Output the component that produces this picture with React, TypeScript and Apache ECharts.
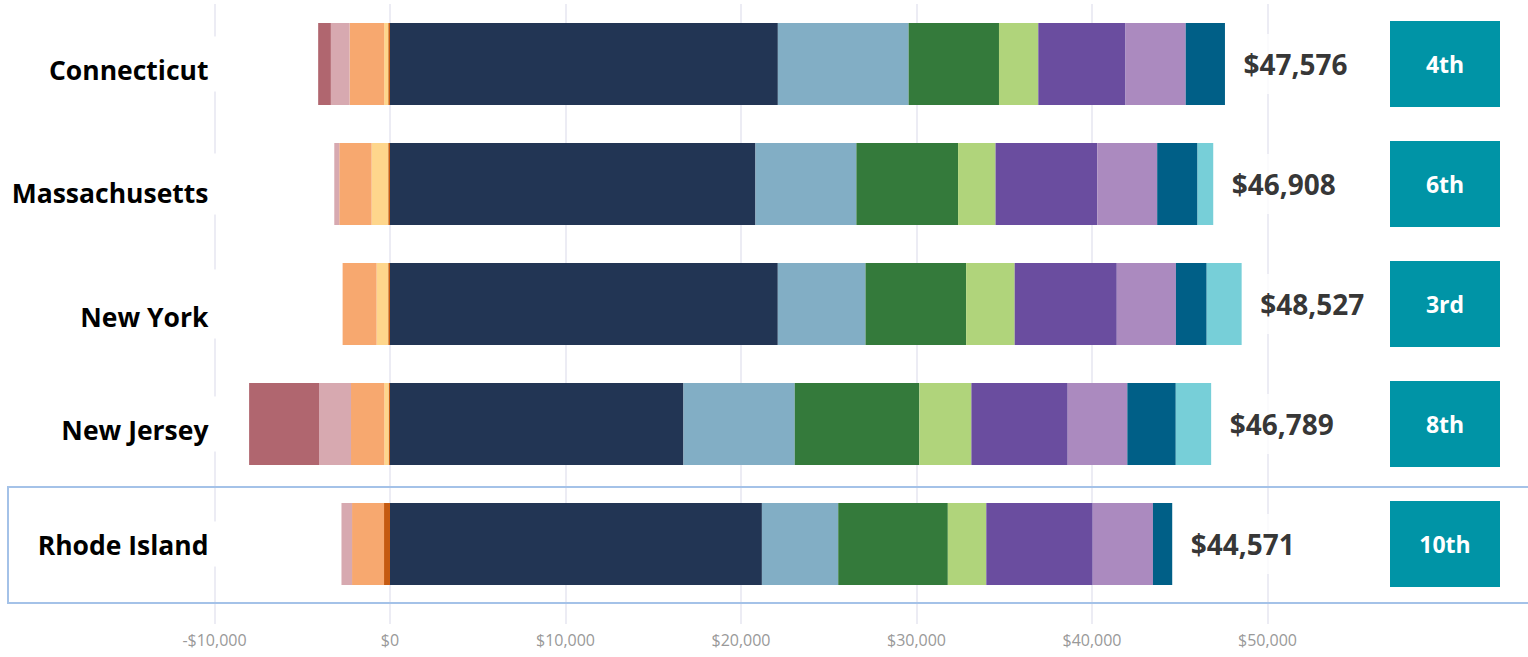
import React, { useEffect, useRef } from "react";
import * as echarts from "echarts";

const categories = ["Connecticut", "Massachusetts", "New York", "New Jersey", "Rhode Island"];
const totals = [47576, 46908, 48527, 46789, 44571];
const ranks = ["4th", "6th", "3rd", "8th", "10th"];
const xTicks = { min: -10000, max: 50000, interval: 10000 };

// positive components (stacked from $0 to the right)
const navy = [22100, 20824, 22097, 16721, 21191];
const lightBlue = [7450, 5750, 4998, 6341, 4349];
const green = [5150, 5795, 5732, 7099, 6245];
const lightGreen = [2240, 2135, 2767, 2966, 2192];
const purple = [4970, 5795, 5818, 5488, 6062];
const lightPurple = [3430, 3415, 3370, 3398, 3433];
const darkTeal = [2236, 2300, 1753, 2761, 1099];
const cyan = [0, 894, 1992, 2015, 0];

// negative components (stacked from $0 to the left)
const darkOrange = [-100, -100, -100, -80, -340];
const yellow = [-230, -950, -665, -245, 0];
const orange = [-1975, -1840, -1935, -1896, -1822];
const pink = [-1064, -285, 0, -1822, -603];
const rose = [-724, 0, 0, -3985, 0];

const seriesDefs: [string, number[], string][] = [
  ["A", navy, "#223554"],
  ["B", lightBlue, "#82aec5"],
  ["C", green, "#347a3b"],
  ["D", lightGreen, "#b0d47b"],
  ["E", purple, "#6a4d9f"],
  ["F", lightPurple, "#ab8abf"],
  ["G", darkTeal, "#005f87"],
  ["H", cyan, "#77cfd8"],
  ["I", darkOrange, "#c55a11"],
  ["J", yellow, "#fed68c"],
  ["K", orange, "#f7a86f"],
  ["L", pink, "#d7a9b0"],
  ["M", rose, "#b0666f"],
];

const fmt = (v: number) => (v < 0 ? "-" : "") + "$" + Math.abs(v).toLocaleString("en-US");

export default function App() {
  const ref = useRef<HTMLDivElement>(null);
  useEffect(() => {
    document.body.style.margin = "0";
    const chart = echarts.init(ref.current!, undefined, { renderer: "svg" });
    const font = "'Open Sans', 'Noto Sans', sans-serif";
    const gridColor = "#e6e6f0";
    const labelShift = [10, 16, 24, 10, 0];
    const rich: any = {};
    labelShift.forEach((s, i) => {
      rich["r" + i] = {
        color: "#000",
        fontSize: 26.5,
        fontWeight: "bold",
        fontFamily: font,
        padding: [s, 0, 0, 0],
      };
    });
    const option: any = {
      animation: false,
      textStyle: { fontFamily: font },
      grid: [
        { left: 214.5, width: 1053, top: 4, height: 600, containLabel: false },
        { left: 1390, width: 110, top: 4, height: 600, containLabel: false },
      ],
      xAxis: [
        {
          type: "value",
          gridIndex: 0,
          min: xTicks.min,
          max: xTicks.max,
          interval: xTicks.interval,
          axisLine: { show: false },
          axisTick: { show: true, length: 20, lineStyle: { color: gridColor, width: 1.5 } },
          splitLine: { show: true, lineStyle: { color: gridColor, width: 1.5 } },
          axisLabel: { formatter: fmt, color: "#999", fontSize: 16, margin: 28, fontFamily: font },
        },
        { type: "value", gridIndex: 1, min: 0, max: 1, show: false },
      ],
      yAxis: [
        {
          type: "category",
          gridIndex: 0,
          data: categories,
          inverse: true,
          z: 5,
          axisLine: { show: false },
          axisTick: { show: false },
          splitLine: { show: false },
          axisLabel: {
            formatter: (v: string, i: number) => `{r${i}|${v}}`,
            rich,
            color: "#000",
            fontSize: 26.5,
            fontWeight: "bold",
            fontFamily: font,
            margin: -2,
            backgroundColor: "#fff",
            padding: [10, 8, 8, 0],
          },
        },
        { type: "category", gridIndex: 1, data: categories, inverse: true, show: false },
      ],
      series: [
        ...seriesDefs.map(([name, data, color]) => ({
          type: "bar",
          name,
          stack: "total",
          data,
          barWidth: 82,
          itemStyle: { color },
          xAxisIndex: 0,
          yAxisIndex: 0,
        })),
        {
          type: "scatter",
          name: "Total",
          xAxisIndex: 0,
          yAxisIndex: 0,
          data: totals.map((t, i) => [t, i]),
          symbolSize: 1,
          itemStyle: { color: "rgba(0,0,0,0)" },
          z: 5,
          label: {
            show: true,
            position: "right",
            distance: 10,
            formatter: (p: any) => fmt(totals[p.dataIndex]),
            color: "#000",
            fontSize: 28,
            fontWeight: "bold",
            fontFamily: font,
            backgroundColor: "#fff",
            padding: [20, 8, 12, 8],
          },
        },
        {
          type: "bar",
          name: "Rank",
          xAxisIndex: 1,
          yAxisIndex: 1,
          data: ranks.map(() => 1),
          barWidth: 86,
          itemStyle: { color: "#0094a6" },
          label: {
            show: true,
            position: "inside",
            formatter: (p: any) => ranks[p.dataIndex],
            color: "#fff",
            fontSize: 23,
            fontWeight: "bold",
            fontFamily: font,
          },
        },
      ],
      graphic: [
        {
          type: "rect",
          z: 100,
          shape: { x: 8, y: 487, width: 1530, height: 116 },
          style: { fill: "none", stroke: "#a4c2e8", lineWidth: 2 },
        },
      ],
    };
    chart.setOption(option);
    return () => chart.dispose();
  }, []);
  return <div ref={ref} style={{ width: 1528, height: 657 }} />;
}
